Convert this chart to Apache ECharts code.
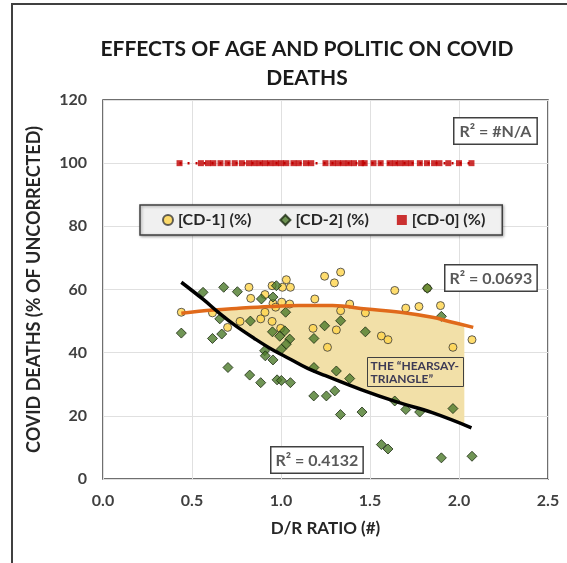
<!DOCTYPE html>
<html>
<head>
<meta charset="utf-8">
<script src="https://cdn.jsdelivr.net/npm/echarts@6/dist/echarts.min.js"></script>
<style>
html, body { margin: 0; padding: 0; background: #fff; }
#chart { width: 567px; height: 563px; }
</style>
</head>
<body>
<div id="chart"></div>
<script>
// values: [D/R ratio, % of uncorrected]
var cd1 = [
  [0.44, 52.8], [0.615, 52.6], [0.70, 48.0], [0.77, 49.9], [0.82, 60.7], [0.83, 57.2],
  [0.886, 50.7], [0.91, 58.4], [0.91, 52.8], [0.95, 61.2], [0.95, 49.9], [0.955, 55.6],
  [0.97, 54.4], [1.008, 60.7], [1.03, 63.1], [1.053, 60.7], [1.004, 56.0], [1.049, 55.4],
  [0.998, 47.7], [1.18, 47.7], [1.19, 57.0], [1.245, 64.2], [1.335, 65.5], [1.30, 62.1],
  [1.335, 53.3], [1.386, 55.4], [1.474, 52.6], [1.311, 47.2], [1.261, 41.7], [1.564, 45.3],
  [1.601, 44.1], [1.639, 59.7], [1.701, 54.1], [1.775, 54.6], [1.896, 54.9], [1.822, 60.4],
  [1.966, 41.7], [2.073, 44.1]
];
var cd2 = [
  [0.44, 46.2], [0.562, 59.1], [0.678, 60.7], [0.755, 59.3], [0.615, 44.5], [0.667, 45.9],
  [0.656, 50.7], [0.828, 50.0], [0.89, 57.0], [0.955, 57.6], [0.974, 61.2], [1.026, 52.8],
  [0.952, 46.6], [0.993, 45.2], [1.021, 46.9], [1.049, 44.3], [1.03, 42.7], [1.002, 41.1],
  [0.908, 40.6], [0.912, 39.0], [0.955, 37.7], [0.702, 35.3], [0.824, 32.9], [0.886, 30.5],
  [0.978, 31.4], [1.002, 31.2], [1.053, 30.5], [1.184, 26.3], [1.185, 44.5], [1.185, 35.3],
  [1.245, 48.5], [1.335, 50.1], [1.474, 46.6], [1.311, 34.2], [1.386, 31.8], [1.302, 27.9],
  [1.255, 26.3], [1.334, 20.4], [1.455, 21.2], [1.639, 24.7], [1.701, 22.0], [1.779, 21.2],
  [1.966, 22.3], [1.564, 10.9], [1.601, 9.5], [1.901, 6.7], [2.073, 7.2], [1.822, 60.4],
  [1.901, 51.5]
];
var cd0Ratio = [0.43, 0.55, 0.59, 0.62, 0.66, 0.70, 0.74, 0.78, 0.82, 0.85, 0.88, 0.91, 0.94,
  0.97, 1.00, 1.03, 1.07, 1.10, 1.14, 1.17, 1.25, 1.29, 1.32, 1.35, 1.38, 1.41, 1.45, 1.47,
  1.52, 1.56, 1.61, 1.64, 1.67, 1.70, 1.73, 1.78, 1.82, 1.86, 1.89, 1.94, 2.00, 2.07];
var cd0Value = 100;

// trendlines as drawn in the picture
var trend1 = [[0.44, 52.5], [0.62, 53.5], [0.75, 54.0], [0.94, 54.6], [1.10, 54.9], [1.29, 54.9],
  [1.48, 53.8], [1.67, 52.8], [1.85, 51.2], [1.95, 49.8], [2.08, 48.0]];
var trend2 = [[0.44, 62.3], [0.56, 57.0], [0.66, 52.2], [0.75, 48.3], [0.85, 44.5], [0.95, 41.0],
  [1.05, 38.0], [1.15, 35.0], [1.25, 32.7], [1.45, 28.3], [1.65, 24.4], [1.85, 21.0], [2.07, 16.2]];
var trend0 = [[0.43, 100], [2.07, 100]];

// the shaded "hearsay triangle" outline
var triangle = [[0.615, 53.3], [0.75, 54.0], [0.94, 54.6], [1.10, 54.9], [1.29, 54.9], [1.48, 53.8],
  [1.67, 52.8], [1.85, 51.2], [1.95, 49.8], [2.03, 48.9], [2.03, 17.3], [1.85, 21.0], [1.65, 24.4],
  [1.45, 28.3], [1.25, 32.7], [1.15, 35.0], [1.05, 38.0], [0.95, 41.0], [0.85, 44.5], [0.75, 48.3],
  [0.66, 52.2]];

var xTicks = [0, 0.5, 1.0, 1.5, 2.0, 2.5];
var yTicks = [0, 20, 40, 60, 80, 100, 120];

var names = ['[CD-1] (%)', '[CD-2] (%)', '[CD-0] (%)'];
var font = 'Lato, "Open Sans", sans-serif';

var chart = echarts.init(document.getElementById('chart'));

chart.setOption({
  animation: false,
  textStyle: { fontFamily: font },
  title: {
    text: 'EFFECTS OF AGE AND POLITIC ON COVID\nDEATHS',
    left: 302,
    top: 30,
    textAlign: 'center',
    textStyle: { fontSize: 21, fontWeight: 'bold', color: '#1a1a1a', lineHeight: 29, fontFamily: font }
  },
  legend: {
    data: [
      { name: names[0], icon: 'circle' },
      { name: names[1], icon: 'diamond' },
      { name: names[2], icon: 'rect' }
    ],
    left: 140,
    top: 205,
    itemWidth: 10,
    itemHeight: 10,
    itemGap: 28,
    padding: [7, 17, 7, 22],
    backgroundColor: '#f0f0f0',
    borderColor: '#404040',
    borderWidth: 1.5,
    shadowColor: 'rgba(0,0,0,0.35)',
    shadowBlur: 3,
    shadowOffsetX: 1,
    shadowOffsetY: 1,
    textStyle: { fontSize: 16, fontWeight: 'bold', color: '#262626', fontFamily: font }
  },
  grid: {
    left: 103,
    right: 19,
    top: 100,
    bottom: 84,
    show: true,
    borderColor: '#404040',
    borderWidth: 1.5
  },
  xAxis: {
    type: 'value',
    min: xTicks[0],
    max: xTicks[xTicks.length - 1],
    interval: 0.5,
    name: 'D/R RATIO (#)',
    nameLocation: 'middle',
    nameGap: 41,
    nameTextStyle: { fontSize: 17, fontWeight: 'bold', color: '#262626' },
    axisLine: { show: false },
    axisTick: { show: false },
    axisLabel: {
      margin: 14,
      fontSize: 16, fontWeight: 'bold', color: '#404040',
      formatter: function (v) { return v.toFixed(1); }
    },
    splitLine: { show: true, lineStyle: { color: '#e0e0e0', width: 1 } }
  },
  yAxis: {
    type: 'value',
    min: yTicks[0],
    max: yTicks[yTicks.length - 1],
    interval: 20,
    name: 'COVID DEATHS (% OF UNCORRECTED)',
    nameLocation: 'middle',
    nameGap: 60,
    nameTextStyle: { fontSize: 18, fontWeight: 'bold', color: '#262626' },
    axisLine: { show: false },
    axisTick: { show: false },
    axisLabel: { margin: 16, fontSize: 16, fontWeight: 'bold', color: '#404040' },
    splitLine: { show: true, lineStyle: { color: '#e0e0e0', width: 1 } }
  },
  graphic: [
    {
      type: 'rect', z: -10, silent: true,
      shape: { x: 12, y: 4, width: 620, height: 620 },
      style: { fill: 'none', stroke: '#404040', lineWidth: 2 }
    },
    {
      type: 'text', left: 453, top: 117, z: 100,
      style: {
        text: 'R² = #N/A', fontSize: 16, fontWeight: 'bold', fontFamily: font, fill: '#595959',
        backgroundColor: '#fff', borderColor: '#404040', borderWidth: 1.5,
        padding: [5, 5, 4, 5]
      }
    },
    {
      type: 'text', left: 444, top: 264, z: 100,
      style: {
        text: 'R² = 0.0693', fontSize: 16, fontWeight: 'bold', fontFamily: font, fill: '#595959',
        backgroundColor: '#fff', borderColor: '#404040', borderWidth: 1.5,
        padding: [5, 4, 4, 4]
      }
    },
    {
      type: 'text', left: 270, top: 446, z: 100,
      style: {
        text: 'R² = 0.4132', fontSize: 16, fontWeight: 'bold', fontFamily: font, fill: '#595959',
        backgroundColor: '#fff', borderColor: '#404040', borderWidth: 1.5,
        padding: [5, 4, 4, 4]
      }
    },
    {
      type: 'text', left: 367, top: 357, z: 100,
      style: {
        text: 'THE “HEARSAY-\nTRIANGLE”', fontSize: 12, fontWeight: 'bold', fontFamily: font,
        fill: '#3d3a55', lineHeight: 13, align: 'center',
        borderColor: '#404040', borderWidth: 1, padding: [2, 3, 1, 3], width: 90
      }
    }
  ],
  series: [
    {
      type: 'custom',
      name: 'triangle',
      silent: true,
      z: 1,
      data: [[1, 50]],
      renderItem: function (params, api) {
        return {
          type: 'polygon',
          shape: { points: triangle.map(function (p) { return api.coord(p); }) },
          style: { fill: '#f2e0a8' }
        };
      }
    },
    {
      name: names[0],
      type: 'scatter',
      symbol: 'circle',
      symbolSize: 8,
      z: 3,
      itemStyle: { color: '#ffd54a', borderColor: '#3a3a3a', borderWidth: 1 },
      data: cd1
    },
    {
      name: names[1],
      type: 'scatter',
      symbol: 'diamond',
      symbolSize: 10,
      z: 3,
      itemStyle: { color: '#4c7a2a', borderColor: '#1c2a12', borderWidth: 1 },
      data: cd2
    },
    {
      name: names[2],
      type: 'scatter',
      symbol: 'rect',
      symbolSize: 6,
      z: 3,
      itemStyle: { color: '#c00000' },
      data: cd0Ratio.map(function (x) { return [x, cd0Value]; })
    },
    {
      type: 'line', name: 'trend0', z: 4, silent: true, symbol: 'none',
      lineStyle: { color: '#c00000', width: 2.5, type: [2, 6] },
      data: trend0
    },
    {
      type: 'line', name: 'trend1', z: 4, silent: true, symbol: 'none', smooth: 0.4,
      lineStyle: { color: '#e06a1b', width: 3.5 },
      data: trend1
    },
    {
      type: 'line', name: 'trend2', z: 4, silent: true, symbol: 'none', smooth: 0.4,
      lineStyle: { color: '#000', width: 3.5 },
      data: trend2
    }
  ]
});
</script>
</body>
</html>
